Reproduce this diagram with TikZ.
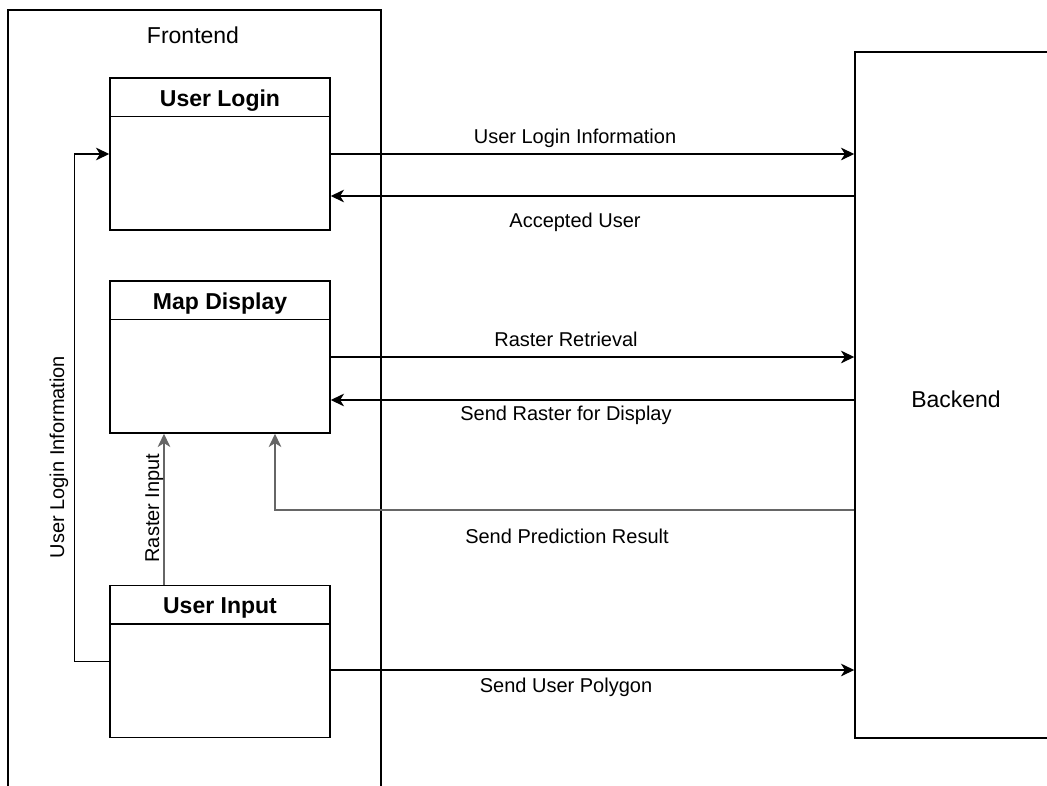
\documentclass[tikz,border=0pt]{standalone}
\usepackage{fontspec}
\setmainfont{Liberation Sans}
\usetikzlibrary{arrows.meta,calc}
\begin{document}
\begin{tikzpicture}[x=0.75pt,y=-0.75pt,
  line width=1.1pt,
  arr/.style={-{Stealth[length=10pt,width=9.5pt,inset=3pt]}},
  greyline/.style={draw=black!60},
  lbl/.style={font=\fontsize{15}{18}\selectfont, inner sep=0pt, anchor=base},
  ttl/.style={font=\fontsize{17.25}{20}\selectfont\bfseries, inner sep=0pt, anchor=base},
  big/.style={font=\fontsize{17.25}{20}\selectfont, inner sep=0pt, anchor=base},
  lane/.style={draw, minimum width=165pt, minimum height=114pt, inner sep=0pt},
  outer/.style={draw, inner sep=0pt}]
\useasboundingbox (0,0) rectangle (1047,786);
\clip (0,0) rectangle (1047,786);

% containers
\node[outer, minimum width=279.75pt, minimum height=592.5pt] (fe) at (194.5,405) {};
\node[big] (fetitle) at (193,43) {Frontend};
\node[outer, minimum width=151.5pt, minimum height=514.5pt] (be) at (956,395) {};
\node[big] (betitle) at (956,407) {Backend};

% swimlane boxes
\node[lane] (ul) at (220,154) {};
\draw ([yshift=-29.25pt]ul.north west) -- ([yshift=-29.25pt]ul.north east);
\node[ttl] (ult) at (220,106) {User Login};

\node[lane] (md) at (220,357) {};
\draw ([yshift=-29.25pt]md.north west) -- ([yshift=-29.25pt]md.north east);
\node[ttl] (mdt) at (220,309) {Map Display};

\node[lane] (ui) at (220,661.5) {};
\draw ([yshift=-29.25pt]ui.north west) -- ([yshift=-29.25pt]ui.north east);
\node[ttl] (uit) at (220,613) {User Input};

% connectors
\draw[arr] (ul.east) -- (ul.east -| be.west);
\node[lbl] (l1) at (575,143) {User Login Information};

\draw[arr] (be.west |- 0,196) -- (ul.east |- 0,196);
\node[lbl] (l2) at (575,227) {Accepted User};

\draw[arr] (md.east) -- (md.east -| be.west);
\node[lbl] (l3) at (566,346) {Raster Retrieval};

\draw[arr] (be.west |- 0,400) -- (md.east |- 0,400);
\node[lbl] (l4) at (566,420) {Send Raster for Display};

\draw[arr, greyline] (be.west |- 0,510) -| ([xshift=41.25pt]md.south);
\node[lbl] (l5) at (567,543) {Send Prediction Result};

\draw[arr, greyline] ([xshift=-42pt]ui.north) -- ([xshift=-42pt]md.south);
\node[lbl, rotate=90] (l6) at (159,508) {Raster Input};

\draw[arr] (ui.west) -- ++(-35,0) |- (ul.west);
\node[lbl, rotate=90] (l7) at (64,457) {User Login Information};

\draw[arr] (ui.east |- 0,670) -- (be.west |- 0,670);
\node[lbl] (l8) at (566,692) {Send User Polygon};
\end{tikzpicture}
\end{document}
